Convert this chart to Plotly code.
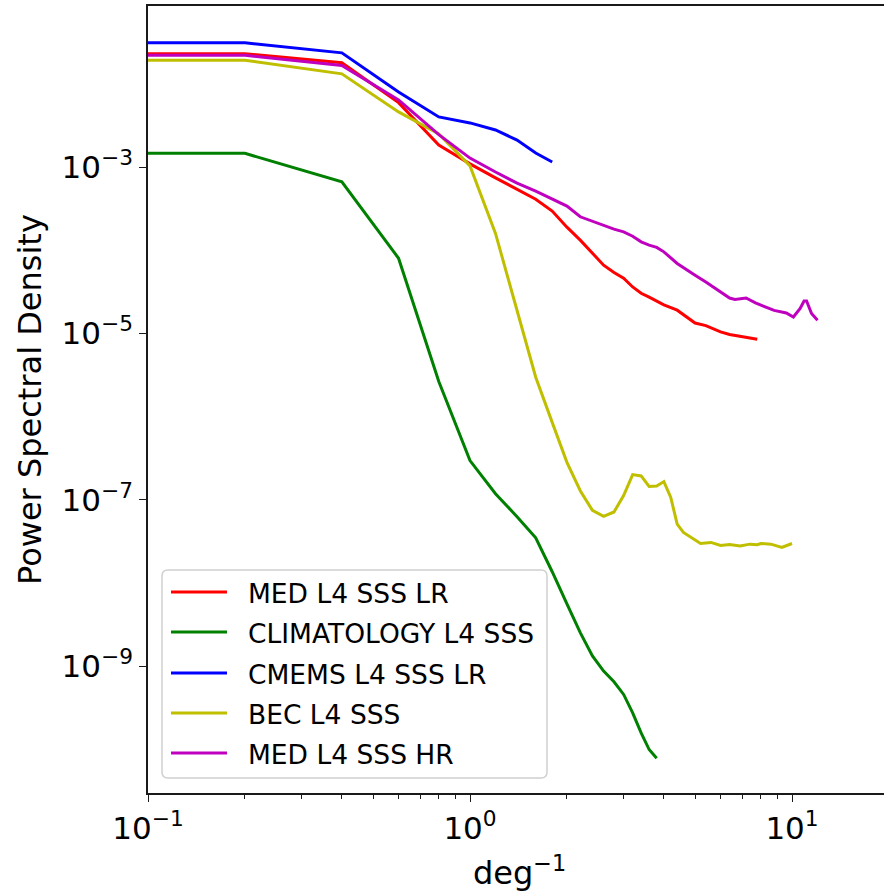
import plotly.graph_objects as go

# Power spectral density of sea-surface-salinity products (deg^-1 vs PSD)
med_lr_x = [0.1, 0.2, 0.4, 0.6, 0.8, 1.0, 1.2, 1.4, 1.6, 1.8, 2.0, 2.2, 2.4, 2.6, 2.8,
            3.0, 3.2, 3.4, 3.6, 3.8, 4.0, 4.4, 4.8, 5.0, 5.4, 6.0, 6.4, 7.0, 7.6, 7.8]
med_lr_y = [2.30e-2, 2.30e-2, 1.79e-2, 5.95e-3, 1.84e-3, 1.09e-3, 7.4e-4, 5.43e-4, 4.1e-4,
            2.95e-4, 1.89e-4, 1.32e-4, 9.1e-5, 6.6e-5, 5.4e-5, 4.6e-5, 3.61e-5, 3.03e-5,
            2.72e-5, 2.45e-5, 2.2e-5, 1.9e-5, 1.48e-5, 1.33e-5, 1.24e-5, 1.04e-5, 9.7e-6,
            9.2e-6, 8.7e-6, 8.5e-6]

clim_x = [0.1, 0.2, 0.4, 0.6, 0.8, 1.0, 1.2, 1.4, 1.6, 1.8, 2.0, 2.2, 2.4, 2.6, 2.8,
          3.0, 3.2, 3.4, 3.6, 3.8]
clim_y = [1.46e-3, 1.46e-3, 6.65e-4, 8.0e-5, 2.64e-6, 2.95e-7, 1.18e-7, 6.24e-8, 3.48e-8,
          1.36e-8, 5.58e-9, 2.52e-9, 1.32e-9, 8.7e-10, 6.46e-10, 4.55e-10, 2.73e-10,
          1.57e-10, 9.9e-11, 7.8e-11]

cmems_x = [0.1, 0.2, 0.4, 0.6, 0.8, 1.0, 1.2, 1.4, 1.6, 1.8]
cmems_y = [3.12e-2, 3.12e-2, 2.36e-2, 8.0e-3, 4.0e-3, 3.39e-3, 2.79e-3, 2.11e-3, 1.47e-3, 1.15e-3]

bec_x = [0.1, 0.2, 0.4, 0.6, 0.8, 1.0, 1.2, 1.4, 1.6, 1.8, 2.0, 2.2, 2.4, 2.6, 2.8, 3.0,
         3.2, 3.4, 3.6, 3.8, 4.0, 4.2, 4.4, 4.6, 4.9, 5.2, 5.6, 6.0, 6.4, 6.9, 7.4, 7.8,
         8.0, 8.6, 9.3, 10.0]
bec_y = [1.92e-2, 1.92e-2, 1.32e-2, 4.6e-3, 2.5e-3, 1.03e-3, 1.59e-4, 1.89e-5, 2.97e-6,
         8.5e-7, 2.81e-7, 1.28e-7, 7.43e-8, 6.29e-8, 7.11e-8, 1.12e-7, 2.0e-7, 1.93e-7,
         1.44e-7, 1.46e-7, 1.65e-7, 1.07e-7, 5.09e-8, 4.04e-8, 3.42e-8, 2.97e-8, 3.06e-8,
         2.81e-8, 2.89e-8, 2.77e-8, 2.92e-8, 2.87e-8, 2.97e-8, 2.92e-8, 2.66e-8, 2.97e-8]

med_hr_x = [0.1, 0.2, 0.4, 0.6, 0.8, 1.0, 1.2, 1.4, 1.6, 1.8, 2.0, 2.2, 2.4, 2.6, 2.8,
            3.0, 3.2, 3.4, 3.6, 3.8, 4.0, 4.4, 4.8, 5.0, 5.4, 6.0, 6.4, 6.65, 7.2, 7.7,
            8.8, 9.6, 10.1, 10.6, 10.9, 11.1, 11.5, 12.0]
med_hr_y = [2.20e-2, 2.20e-2, 1.66e-2, 6.41e-3, 2.45e-3, 1.28e-3, 8.7e-4, 6.4e-4, 5.14e-4,
            4.1e-4, 3.39e-4, 2.52e-4, 2.22e-4, 1.98e-4, 1.79e-4, 1.66e-4, 1.47e-4, 1.26e-4,
            1.15e-4, 1.08e-4, 9.55e-5, 6.92e-5, 5.48e-5, 5.0e-5, 4.15e-5, 3.15e-5, 2.66e-5,
            2.55e-5, 2.66e-5, 2.32e-5, 1.89e-5, 1.76e-5, 1.57e-5, 1.99e-5, 2.45e-5, 2.45e-5,
            1.73e-5, 1.44e-5]

series_names = ["MED L4 SSS LR", "CLIMATOLOGY L4 SSS", "CMEMS L4 SSS LR",
                "BEC L4 SSS", "MED L4 SSS HR"]
series_colors = ["#ff0000", "#008000", "#0000ff", "#bfbf00", "#bf00bf"]
series_x = [med_lr_x, clim_x, cmems_x, bec_x, med_hr_x]
series_y = [med_lr_y, clim_y, cmems_y, bec_y, med_hr_y]

x_tick_vals = [0.1, 1, 10]
x_tick_text = ["10<sup>\u22121</sup>", "10<sup>0</sup>", "10<sup>1</sup>"]
x_minor_vals = [0.2, 0.3, 0.4, 0.5, 0.6, 0.7, 0.8, 0.9, 2, 3, 4, 5, 6, 7, 8, 9]
y_tick_vals = [1e-3, 1e-5, 1e-7, 1e-9]
y_tick_text = ["10<sup>\u22123</sup>", "10<sup>\u22125</sup>",
               "10<sup>\u22127</sup>", "10<sup>\u22129</sup>"]

W, H = 884, 892
ML, MT, MB = 148, 6, 99
PW, PH = W - ML, H - MT - MB
FONT = "DejaVu Sans"
INK = "#1a1a1a"


def fx(p):
    return (p - ML) / PW


def fy(p):
    return (H - MB - p) / PH


fig = go.Figure()
for name, color, xs, ys in zip(series_names, series_colors, series_x, series_y):
    fig.add_trace(go.Scatter(x=xs, y=ys, mode="lines", name=name,
                             line=dict(color=color, width=3), showlegend=False))

# legend frame with rounded corners
lx0, lx1, ly0, ly1, r = 162, 547, 570, 778, 6
rx, ry = r / PW, r / PH
X0, X1, Y0, Y1 = fx(lx0), fx(lx1), fy(ly1), fy(ly0)
path = (f"M{X0 + rx},{Y0} L{X1 - rx},{Y0} Q{X1},{Y0} {X1},{Y0 + ry} "
        f"L{X1},{Y1 - ry} Q{X1},{Y1} {X1 - rx},{Y1} L{X0 + rx},{Y1} "
        f"Q{X0},{Y1} {X0},{Y1 - ry} L{X0},{Y0 + ry} Q{X0},{Y0} {X0 + rx},{Y0} Z")
shapes = [dict(type="path", path=path, xref="paper", yref="paper",
               fillcolor="rgba(255,255,255,0.8)", line=dict(color="#d0d0d0", width=1.5))]
annotations = []
row_y = [592, 632, 673, 713, 753]
for name, color, ry_ in zip(series_names, series_colors, row_y):
    shapes.append(dict(type="line", xref="paper", yref="paper",
                       x0=fx(171), x1=fx(227), y0=fy(ry_), y1=fy(ry_),
                       line=dict(color=color, width=3)))
    annotations.append(dict(text=name, xref="paper", yref="paper", x=fx(246), y=fy(ry_ + 1),
                            xanchor="left", yanchor="middle", showarrow=False,
                            font=dict(family=FONT, size=26.5, color="#000000")))

# axis titles
annotations.append(dict(text="Power Spectral Density", xref="paper", yref="paper",
                        x=fx(30), y=fy(400), xanchor="center", yanchor="middle",
                        textangle=-90, showarrow=False,
                        font=dict(family=FONT, size=32, color="#000000")))
annotations.append(dict(text="deg<sup>\u22121</sup>", xref="paper", yref="paper",
                        x=fx(519), y=fy(871), xanchor="center", yanchor="middle",
                        showarrow=False, font=dict(family=FONT, size=32, color="#000000")))

fig.update_layout(
    width=W, height=H,
    margin=dict(l=ML, r=0, t=MT, b=MB, pad=0),
    paper_bgcolor="white", plot_bgcolor="white",
    font=dict(family=FONT, color="#000000"),
    shapes=shapes, annotations=annotations,
    showlegend=False,
)
fig.update_xaxes(type="log", range=[-1, -1 + PW / 322.0],
                 showgrid=False, zeroline=False,
                 showline=True, linecolor=INK, linewidth=1.6, mirror=True,
                 ticks="outside", ticklen=7, tickwidth=1.4, tickcolor=INK,
                 tickmode="array", tickvals=x_tick_vals, ticktext=x_tick_text,
                 tickfont=dict(family=FONT, size=31, color="#000000"),
                 minor=dict(tickmode="array", tickvals=x_minor_vals, ticks="outside",
                            ticklen=4, tickwidth=1.1, tickcolor=INK, showgrid=False))
fig.update_yaxes(type="log", range=[-10.527, -1.064],
                 showgrid=False, zeroline=False,
                 showline=True, linecolor=INK, linewidth=1.6, mirror=False,
                 ticks="outside", ticklen=7, tickwidth=1.4, tickcolor=INK,
                 tickmode="array", tickvals=y_tick_vals, ticktext=y_tick_text,
                 tickfont=dict(family=FONT, size=31, color="#000000"))

fig.write_html("out.html")
